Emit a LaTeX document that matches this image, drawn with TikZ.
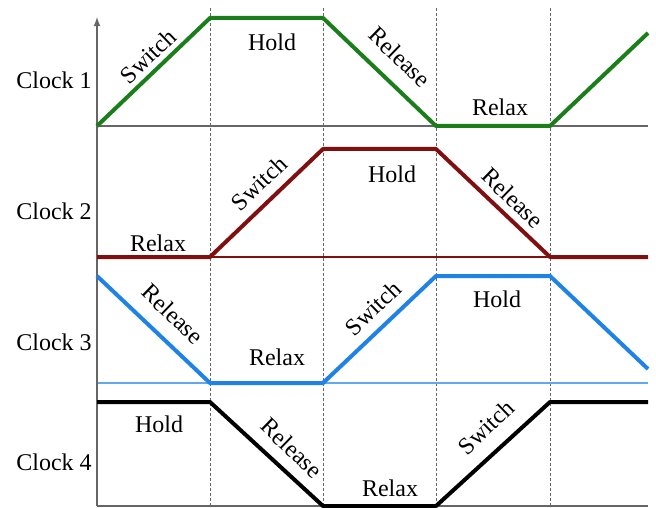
\documentclass[tikz,border=0pt]{standalone}
\usepackage{fontspec}
\setmainfont{Liberation Serif}
\usepackage{xcolor}
\usepackage{tikz}
\definecolor{clkgreen}{HTML}{1A7F1A}
\definecolor{clkred}{HTML}{801010}
\definecolor{clkblue}{HTML}{1E82E6}
\definecolor{gridgray}{HTML}{666666}

\tikzset{
  wave/.style={line width=2pt,line join=round},
  base/.style={line width=0.6pt},
  phase/.style={font=\fontsize{12}{14}\selectfont,inner sep=0pt},
  clk/.style={font=\fontsize{12}{14}\selectfont,inner sep=0pt}
}

\begin{document}
\begin{tikzpicture}[x=0.5pt,y=-0.5pt]
    \useasboundingbox (0,0) rectangle (656,507);
    % phase borders
    \foreach \x in {210,323,436,550} \draw[gridgray,line width=0.5pt,dash pattern=on 1.5pt off 1pt] (\x,8) -- (\x,507);
    % baselines
    \draw[base,gridgray] (97,126) -- (648,126);
    \draw[base,clkred] (97,257) -- (648,257);
    \draw[base,clkblue!70] (97,383) -- (648,383);
    \draw[base,gridgray] (97,506) -- (648,506);
    \draw[-latex,gridgray,line width=0.6pt] (97,506) -- (97,17);
    % waveforms
    \draw[wave,clkgreen] plot coordinates {(97,126) (210,18) (323,18) (436,126) (550,126) (648,33)};
    \draw[wave,clkred] plot coordinates {(97,257) (210,257) (323,149) (436,149) (550,257) (648,257)};
    \draw[wave,clkblue] plot coordinates {(97,276) (210,383) (323,383) (436,276) (550,276) (648,369)};
    \draw[wave,black] plot coordinates {(97,402) (210,402) (323,506) (436,506) (550,402) (648,402)};
    % clock names
    \node[clk] (c1) at (54,80) {Clock 1};
    \node[clk] (c2) at (54,211) {Clock 2};
    \node[clk] (c3) at (54,342) {Clock 3};
    \node[clk] (c4) at (54,462) {Clock 4};
    % clock 1
    \node[phase,rotate=44] (s1) at (148,56) {Switch};
    \node[phase] (h1) at (272,42) {Hold};
    \node[phase,rotate=-44] (r1) at (400,57) {Release};
    \node[phase] (x1) at (500,107) {Relax};
    % clock 2
    \node[phase] (x2) at (158,243) {Relax};
    \node[phase,rotate=44] (s2) at (259,183) {Switch};
    \node[phase] (h2) at (392,174) {Hold};
    \node[phase,rotate=-44] (r2) at (513,198) {Release};
    % clock 3
    \node[phase,rotate=-44] (r3) at (173,314) {Release};
    \node[phase] (x3) at (277,357) {Relax};
    \node[phase,rotate=44] (s3) at (373,308) {Switch};
    \node[phase] (h3) at (497,299) {Hold};
    % clock 4
    \node[phase] (h4) at (159,424) {Hold};
    \node[phase,rotate=-44] (r4) at (292,448) {Release};
    \node[phase] (x4) at (390,488) {Relax};
    \node[phase,rotate=44] (s4) at (486,427) {Switch};
  \end{tikzpicture}
\end{document}
